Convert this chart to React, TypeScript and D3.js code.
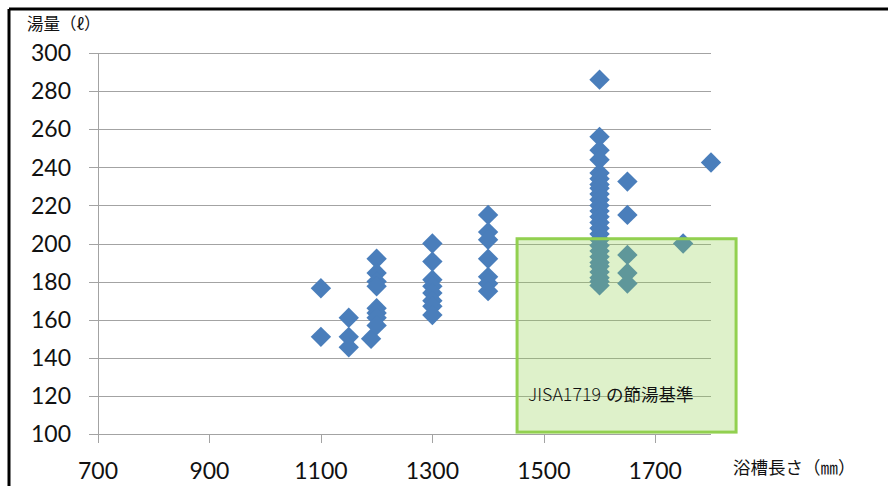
import React from "react";
import * as d3 from "d3";

const lengthMm: number[] = [
  1100, 1100,
  1150, 1150, 1150,
  1190,
  1200, 1200, 1200, 1200, 1200, 1200, 1200, 1200,
  1300, 1300, 1300, 1300, 1300, 1300, 1300, 1300,
  1400, 1400, 1400, 1400, 1400, 1400, 1400,
  1600, 1600, 1600, 1600, 1600, 1600, 1600, 1600, 1600, 1600, 1600, 1600, 1600,
  1600, 1600, 1600, 1600, 1600, 1600, 1600, 1600, 1600, 1600, 1600, 1600, 1600,
  1650, 1650, 1650, 1650, 1650,
  1750,
  1800,
];
const volumeL: number[] = [
  176.5, 151,
  161, 151, 145.5,
  150,
  192, 184.5, 180, 177.5, 166, 163.5, 161, 157,
  200, 190.5, 181, 177.5, 174, 170, 167, 162.5,
  215, 206, 202, 192, 182.5, 179, 175,
  286, 256, 249, 244, 237, 234, 231, 229, 226, 223, 220, 217, 214,
  211, 208, 205, 202, 199, 196, 193, 190, 188, 185, 182, 180, 178,
  232.5, 215, 194, 184.5, 179,
  200,
  242.5,
];

const xTicks: number[] = [700, 900, 1100, 1300, 1500, 1700];
const yTicks: number[] = [100, 120, 140, 160, 180, 200, 220, 240, 260, 280, 300];
const xDomain: [number, number] = [700, 1800];
const yDomain: [number, number] = [100, 300];

// JIS A 1719 water-saving standard region (data units)
const standardX: [number, number] = [1452, 1845];
const standardY: [number, number] = [101, 202.5];
const standardLabel = ["JISA1719", "の節湯基準"];
const yTitle = "湯量（ℓ）";
const xTitle = "浴槽長さ（㎜）";

export default function App() {
  const W = 888;
  const H = 486;
  const x = d3.scaleLinear().domain(xDomain).range([98, 711]);
  const y = d3.scaleLinear().domain(yDomain).range([434, 53]);
  const diamond = d3.symbol().type(d3.symbolDiamond2).size(265)();
  const gridColor = "#a3a3a3";
  const numFont = "Lato, 'Open Sans', sans-serif";
  const cjk = "'Noto Sans CJK JP', sans-serif";

  const bx0 = x(standardX[0]);
  const bx1 = x(standardX[1]);
  const by0 = y(standardY[1]);
  const by1 = y(standardY[0]);

  return (
    <svg
      width={W}
      height={H}
      style={{ position: "absolute", left: 0, top: 0, background: "#fff" }}
    >
      <rect x={0} y={0} width={W} height={H} fill="#fff" />
      {/* border */}
      <line x1={9} y1={9} x2={W} y2={9} stroke="#000" strokeWidth={3} />
      <line x1={9} y1={9} x2={9} y2={H} stroke="#000" strokeWidth={3} />

      {/* gridlines and y ticks */}
      {yTicks.map((t) => (
        <g key={"y" + t}>
          <line
            x1={89}
            x2={x(xDomain[1])}
            y1={Math.round(y(t)) + 0.5}
            y2={Math.round(y(t)) + 0.5}
            stroke={gridColor}
            strokeWidth={1}
          />
          <text
            x={71}
            y={y(t)}
            dy="0.36em"
            textAnchor="end"
            fontFamily={numFont}
            fontSize={23}
            fill="#111"
          >
            {t}
          </text>
        </g>
      ))}
      {/* y axis */}
      <line
        x1={x(xDomain[0]) + 0.5}
        x2={x(xDomain[0]) + 0.5}
        y1={y(yDomain[1])}
        y2={y(yDomain[0])}
        stroke={gridColor}
        strokeWidth={1}
      />
      {/* x ticks */}
      {xTicks.map((t) => (
        <g key={"x" + t}>
          <line
            x1={Math.round(x(t)) + 0.5}
            x2={Math.round(x(t)) + 0.5}
            y1={y(yDomain[0])}
            y2={y(yDomain[0]) + 9}
            stroke={gridColor}
            strokeWidth={1}
          />
          <text
            x={x(t)}
            y={479}
            textAnchor="middle"
            fontFamily={numFont}
            fontSize={23}
            fill="#111"
          >
            {t}
          </text>
        </g>
      ))}

      {/* points */}
      {lengthMm.map((lx, i) => (
        <path
          key={"p" + i}
          d={diamond as string}
          transform={`translate(${x(lx)},${y(volumeL[i])})`}
          fill="#4a7ebb"
        />
      ))}

      {/* standard box */}
      <rect
        x={bx0}
        y={by0}
        width={bx1 - bx0}
        height={by1 - by0}
        fill="#92d050"
        fillOpacity={0.3}
        stroke="#92d050"
        strokeWidth={3}
      />
      <text x={528} y={401} fill="#111" fontFamily={cjk} fontSize={17.5}>
        <tspan textLength={73} lengthAdjust="spacingAndGlyphs" fontWeight={300}>
          {standardLabel[0]}
        </tspan>
        <tspan dx={5}>{standardLabel[1]}</tspan>
      </text>

      {/* axis titles */}
      <text x={27} y={30} fontFamily={cjk} fontSize={16.5} fill="#111">
        {yTitle}
      </text>
      <text x={733} y={474} fontFamily={cjk} fontSize={17.5} fill="#111">
        {xTitle}
      </text>
    </svg>
  );
}
